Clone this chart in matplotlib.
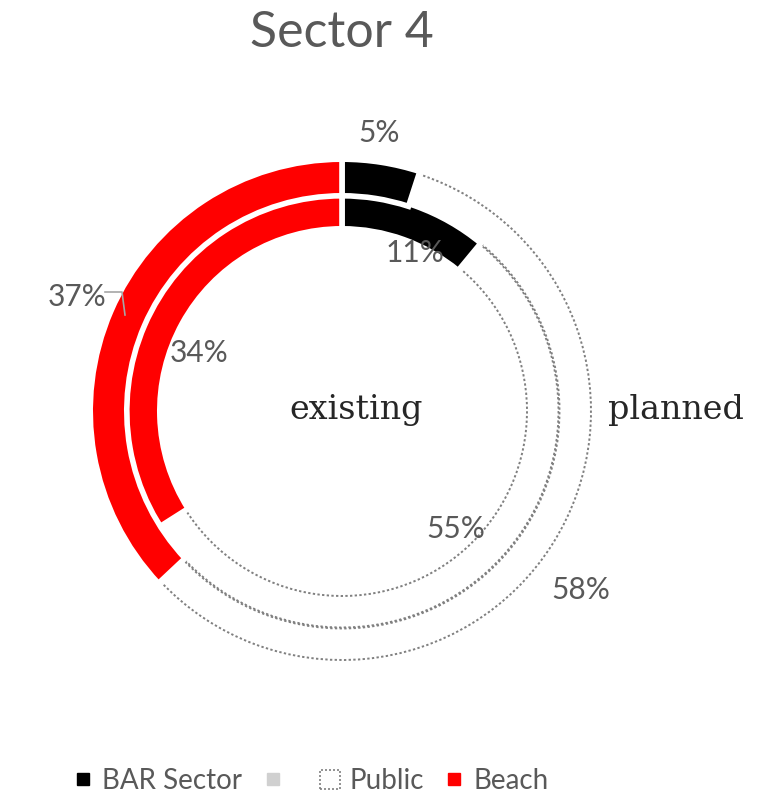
import matplotlib.pyplot as plt
from matplotlib.lines import Line2D
from matplotlib.patches import Patch

categories = ['BAR Sector', 'Public', 'Beach']
planned = [5, 58, 37]    # outer ring
existing = [11, 55, 34]  # inner ring
colors = ['#000000', '#ffffff', '#ff0000']
ring_labels = ['existing', 'planned']

W, H = 779, 798
fig = plt.figure(figsize=(W / 100, H / 100), dpi=100)
ax = fig.add_axes([0, 0, 1, 1])
ax.set_xlim(0, W)
ax.set_ylim(0, H)
ax.set_aspect('equal')
ax.axis('off')

cx, cy = 342, H - 411
lw_px = 5.6
grey_txt = '#595959'
dots = (0, (1.2, 1.2))


def ring(values, r_vis_out, r_vis_in, pub_out, pub_in):
    half = lw_px / 2
    wedges, _ = ax.pie(values, colors=colors, startangle=90, counterclock=False,
                       center=(cx, cy), radius=r_vis_out + half,
                       wedgeprops=dict(width=(r_vis_out - r_vis_in) + lw_px,
                                       edgecolor='white', linewidth=lw_px * 72 / 100))
    # public slice: white with dotted outline
    pub = wedges[1]
    pub.set_radius(pub_out)
    pub.set_width(pub_out - pub_in)
    pub.set_edgecolor('#808080')
    pub.set_linestyle(dots)
    pub.set_linewidth(1.4)
    pub.set_zorder(0.5)
    return wedges


ring(existing, 215, 185, 216.5, 185)
ring(planned, 249, 218, 249, 217.5)
ax.set_xlim(0, W)
ax.set_ylim(0, H)

# percentage labels
lab_pos_planned = [(379, 133), (581, 590), (77, 297)]
lab_pos_existing = [(415, 253), (456, 529), (199, 353)]
for v, (x, y) in zip(planned, lab_pos_planned):
    ax.text(x, H - y, f'{v}%', ha='center', va='center', fontsize=21.5,
            family='Lato', color=grey_txt)
for v, (x, y) in zip(existing, lab_pos_existing):
    ax.text(x, H - y, f'{v}%', ha='center', va='center', fontsize=21.5,
            family='Lato', color=grey_txt)

# leader line for 37%
ax.plot([105, 122, 125], [H - 292, H - 292, H - 315], color='#a6a6a6', lw=1.2)

ax.text(356, H - 410, ring_labels[0], ha='center', va='center', fontsize=24,
        family='DejaVu Serif', color='#262626')
ax.text(676, H - 410, ring_labels[1], ha='center', va='center', fontsize=24,
        family='DejaVu Serif', color='#262626')

ax.text(342, H - 33, 'Sector 4', ha='center', va='center', fontsize=36,
        family='Lato', color=grey_txt)

handles = [
    Line2D([], [], ls='none', marker='s', markersize=8, color='#000000'),
    Line2D([], [], ls='none', marker='s', markersize=8, color='#d0d0d0'),
    Patch(facecolor='white', edgecolor='#808080', linestyle=dots, linewidth=1.2),
    Line2D([], [], ls='none', marker='s', markersize=8, color='#ff0000'),
]
labels = ['BAR Sector', ' ', 'Public', 'Beach']
leg = ax.legend(handles, labels, loc='center', bbox_to_anchor=(311 / W, 17 / H),
                ncol=4, frameon=False, handlelength=0.7, handleheight=0.7,
                handletextpad=0.35, columnspacing=0.75,
                prop={'family': 'Lato', 'size': 20})
for t in leg.get_texts():
    t.set_color(grey_txt)

fig.savefig('out.png', dpi=100)
